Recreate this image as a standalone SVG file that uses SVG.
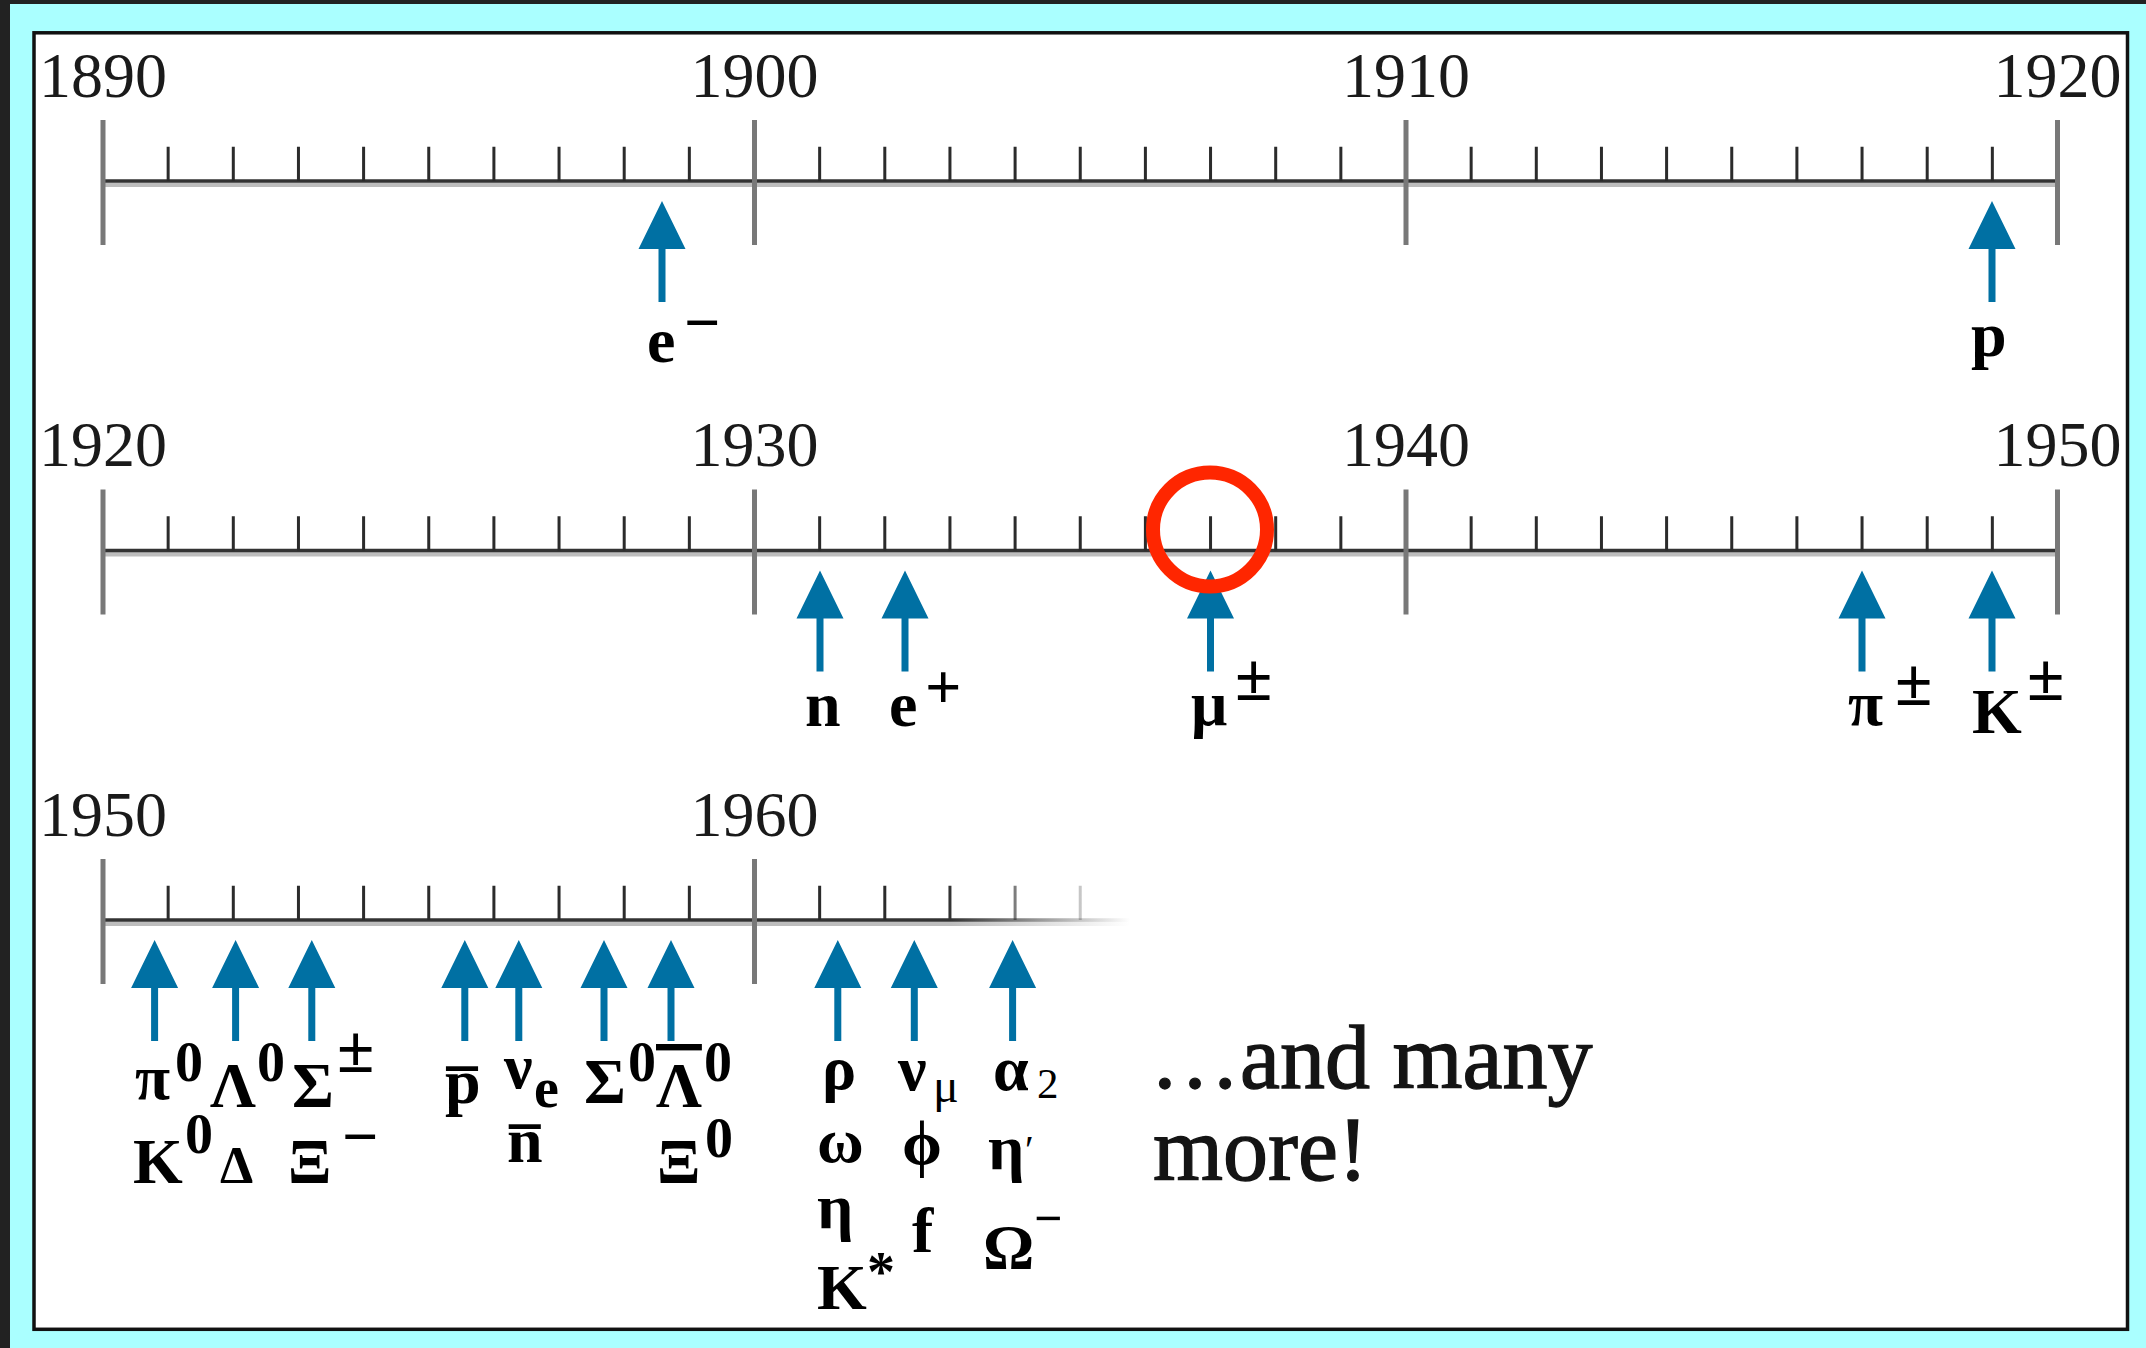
<svg xmlns="http://www.w3.org/2000/svg" xmlns:xlink="http://www.w3.org/1999/xlink" width="2146" height="1348" viewBox="0 0 2146 1348">
<style>
.yr{font-family:"Liberation Serif","Times New Roman",serif;font-size:64px;fill:#1a1a1a}
.pt{font-family:"Liberation Serif","DejaVu Serif",serif;font-weight:bold;font-size:64px;fill:#000}
.s0{font-size:56px}
.pm{font-size:68px}
.rg{font-weight:normal}
.ov{text-decoration:overline}
.note{font-family:"Liberation Serif","Times New Roman",serif;font-size:90px;fill:#141414;stroke:#141414;stroke-width:1.3}
.major{stroke:#787878;stroke-width:5;fill:none}
.minor{stroke:#2b2b2b;stroke-width:3;fill:none}
.axis{stroke:#333;stroke-width:3.5}
.axis2{stroke:#bdbdbd;stroke-width:4.6}
.arrow{fill:#0070a3}
</style>
<defs>
<path id="arr" d="M0 0 L23.5 48 L3.5 48 L3.5 101 L-3.5 101 L-3.5 48 L-23.5 48 Z"/>
<linearGradient id="fadeDark" gradientUnits="userSpaceOnUse" x1="950" y1="0" x2="1130" y2="0">
<stop offset="0" stop-color="#333" stop-opacity="1"/>
<stop offset="1" stop-color="#333" stop-opacity="0"/>
</linearGradient>
<linearGradient id="fadeGray" gradientUnits="userSpaceOnUse" x1="950" y1="0" x2="1130" y2="0">
<stop offset="0" stop-color="#bdbdbd" stop-opacity="1"/>
<stop offset="1" stop-color="#bdbdbd" stop-opacity="0"/>
</linearGradient>
<g id="scale">
<line class="axis2" x1="103" y1="184.8" x2="2057.5" y2="184.8"/>
<line class="axis" x1="103" y1="181" x2="2057.5" y2="181"/>
<path class="minor" d="M168.15 146.7V181M233.3 146.7V181M298.45 146.7V181M363.6 146.7V181M428.75 146.7V181M493.9 146.7V181M559.05 146.7V181M624.2 146.7V181M689.35 146.7V181M819.65 146.7V181M884.8 146.7V181M949.95 146.7V181M1015.1 146.7V181M1080.25 146.7V181M1145.4 146.7V181M1210.55 146.7V181M1275.7 146.7V181M1340.85 146.7V181M1471.15 146.7V181M1536.3 146.7V181M1601.45 146.7V181M1666.6 146.7V181M1731.75 146.7V181M1796.9 146.7V181M1862.05 146.7V181M1927.2 146.7V181M1992.35 146.7V181"/>
<path class="major" d="M103 120V245M754.5 120V245M1406 120V245M2057.5 120V245"/>
</g>
</defs>

<rect x="0" y="0" width="2146" height="1348" fill="#aaffff"/>
<rect x="0" y="0" width="10" height="1348" fill="#222"/>
<rect x="0" y="0" width="2146" height="4" fill="#222"/>
<rect x="34" y="32.8" width="2093.5" height="1296.5" fill="#fff" stroke="#111" stroke-width="3.5"/>

<g id="timelines">
<g id="timeline-1890-1920">
<use xlink:href="#scale" href="#scale"/>
<text class="yr" text-anchor="middle" x="103" y="97">1890</text>
<text class="yr" text-anchor="middle" x="754.5" y="97">1900</text>
<text class="yr" text-anchor="middle" x="1406" y="97">1910</text>
<text class="yr" text-anchor="middle" x="2057.5" y="97">1920</text>
</g>
<g id="timeline-1920-1950">
<use xlink:href="#scale" href="#scale" transform="translate(0 369.5)"/>
<text class="yr" text-anchor="middle" x="103" y="466">1920</text>
<text class="yr" text-anchor="middle" x="754.5" y="466">1930</text>
<text class="yr" text-anchor="middle" x="1406" y="466">1940</text>
<text class="yr" text-anchor="middle" x="2057.5" y="466">1950</text>
</g>
<g id="timeline-1950-1965">
<line x1="103" y1="923.8" x2="1140" y2="923.8" stroke="url(#fadeGray)" stroke-width="4.6"/>
<line x1="103" y1="920" x2="1140" y2="920" stroke="url(#fadeDark)" stroke-width="3.5"/>
<path class="minor" d="M168.15 885.7V920M233.3 885.7V920M298.45 885.7V920M363.6 885.7V920M428.75 885.7V920M493.9 885.7V920M559.05 885.7V920M624.2 885.7V920M689.35 885.7V920M819.65 885.7V920M884.8 885.7V920"/>
<path d="M949.95 885.7V920M1015.1 885.7V920M1080.25 885.7V920" stroke="url(#fadeDark)" stroke-width="3" fill="none"/>
<path class="major" d="M103 859V984M754.5 859V984"/>
<text class="yr" text-anchor="middle" x="103" y="836">1950</text>
<text class="yr" text-anchor="middle" x="754.5" y="836">1960</text>
</g>
</g>

<g id="connectors" class="arrow">
<use xlink:href="#arr" href="#arr" x="662" y="201"/>
<use xlink:href="#arr" href="#arr" x="1992" y="201"/>
<use xlink:href="#arr" href="#arr" x="820" y="570.5"/>
<use xlink:href="#arr" href="#arr" x="905" y="570.5"/>
<use xlink:href="#arr" href="#arr" x="1210.5" y="570.5"/>
<use xlink:href="#arr" href="#arr" x="1862" y="570.5"/>
<use xlink:href="#arr" href="#arr" x="1992" y="570.5"/>
<use xlink:href="#arr" href="#arr" x="154.6" y="940"/>
<use xlink:href="#arr" href="#arr" x="235.6" y="940"/>
<use xlink:href="#arr" href="#arr" x="311.8" y="940"/>
<use xlink:href="#arr" href="#arr" x="464.8" y="940"/>
<use xlink:href="#arr" href="#arr" x="518.8" y="940"/>
<use xlink:href="#arr" href="#arr" x="604" y="940"/>
<use xlink:href="#arr" href="#arr" x="671" y="940"/>
<use xlink:href="#arr" href="#arr" x="837.8" y="940"/>
<use xlink:href="#arr" href="#arr" x="914.3" y="940"/>
<use xlink:href="#arr" href="#arr" x="1012.6" y="940"/>
</g>

<circle id="highlight" cx="1210" cy="529.5" r="57" fill="none" stroke="#ff2600" stroke-width="14"/>

<g id="p-electron"><text class="pt"><tspan x="647" y="362">e</tspan><tspan x="684" y="344">−</tspan></text></g>
<g id="p-proton"><text class="pt" x="1971" y="356">p</text></g>

<g id="p-neutron"><text class="pt" x="805" y="726">n</text></g>
<g id="p-positron"><text class="pt"><tspan x="889" y="726">e</tspan><tspan x="925" y="708">+</tspan></text></g>
<g id="p-muon"><text class="pt"><tspan x="1191" y="725">μ</tspan><tspan class="pm" x="1235" y="700">±</tspan></text></g>
<g id="p-pion"><text class="pt"><tspan x="1848" y="725">π</tspan><tspan class="pm" x="1895" y="705">±</tspan></text></g>
<g id="p-kaon"><text class="pt"><tspan x="1972" y="733">K</tspan><tspan class="pm" x="2027" y="700">±</tspan></text></g>

<g id="p-1950s-a"><text class="pt"><tspan x="135" y="1099">π</tspan><tspan class="s0" x="175" y="1081">0</tspan><tspan x="133" y="1183">K</tspan><tspan class="s0" x="185" y="1153">0</tspan></text></g>
<g id="p-1950s-b"><text class="pt"><tspan x="210" y="1107">Λ</tspan><tspan class="s0" x="257" y="1081">0</tspan><tspan style="font-size:53px" x="220" y="1183">Δ</tspan></text></g>
<g id="p-1950s-c"><text class="pt"><tspan x="292" y="1107">Σ</tspan><tspan class="pm" x="337" y="1072">±</tspan><tspan x="288" y="1183">Ξ</tspan><tspan x="342" y="1158">−</tspan></text></g>
<g id="p-1950s-d"><text class="pt" x="445" y="1103">p̅</text></g>
<g id="p-1950s-e"><text class="pt"><tspan x="504" y="1088">ν</tspan><tspan class="s0" x="534" y="1107">e</tspan><tspan x="507" y="1162">n̅</tspan></text></g>
<g id="p-1950s-f"><text class="pt"><tspan x="584" y="1103">Σ</tspan><tspan class="s0" x="628" y="1081">0</tspan></text></g>
<g id="p-1950s-g"><text class="pt"><tspan class="ov" x="656" y="1107">Λ</tspan><tspan class="s0" x="704" y="1081">0</tspan><tspan x="657" y="1183">Ξ</tspan><tspan class="s0" x="705" y="1157">0</tspan></text></g>

<g id="p-1960s-a"><text class="pt"><tspan x="822" y="1089">ρ</tspan><tspan x="817" y="1162">ω</tspan><tspan x="817" y="1228">η</tspan><tspan x="817" y="1309">K</tspan><tspan style="font-size:56px" x="867" y="1291">*</tspan></text></g>
<g id="p-1960s-b"><text class="pt"><tspan x="898" y="1090">ν</tspan><tspan class="rg" style="font-size:48px" x="933" y="1102">μ</tspan><tspan x="902" y="1164">ϕ</tspan><tspan x="912" y="1252">f</tspan></text></g>
<g id="p-1960s-c"><text class="pt"><tspan x="993" y="1090">α</tspan><tspan class="rg" style="font-size:43px" x="1037" y="1098">2</tspan><tspan x="988" y="1169">η</tspan><tspan class="rg" style="font-size:40px" x="1025" y="1163">′</tspan><tspan x="983" y="1269">Ω</tspan><tspan style="font-size:50px" x="1034" y="1235">−</tspan></text></g>

<g id="note"><text class="note"><tspan x="1150" y="1088">…and many</tspan><tspan x="1153" y="1180">more!</tspan></text></g>
</svg>
